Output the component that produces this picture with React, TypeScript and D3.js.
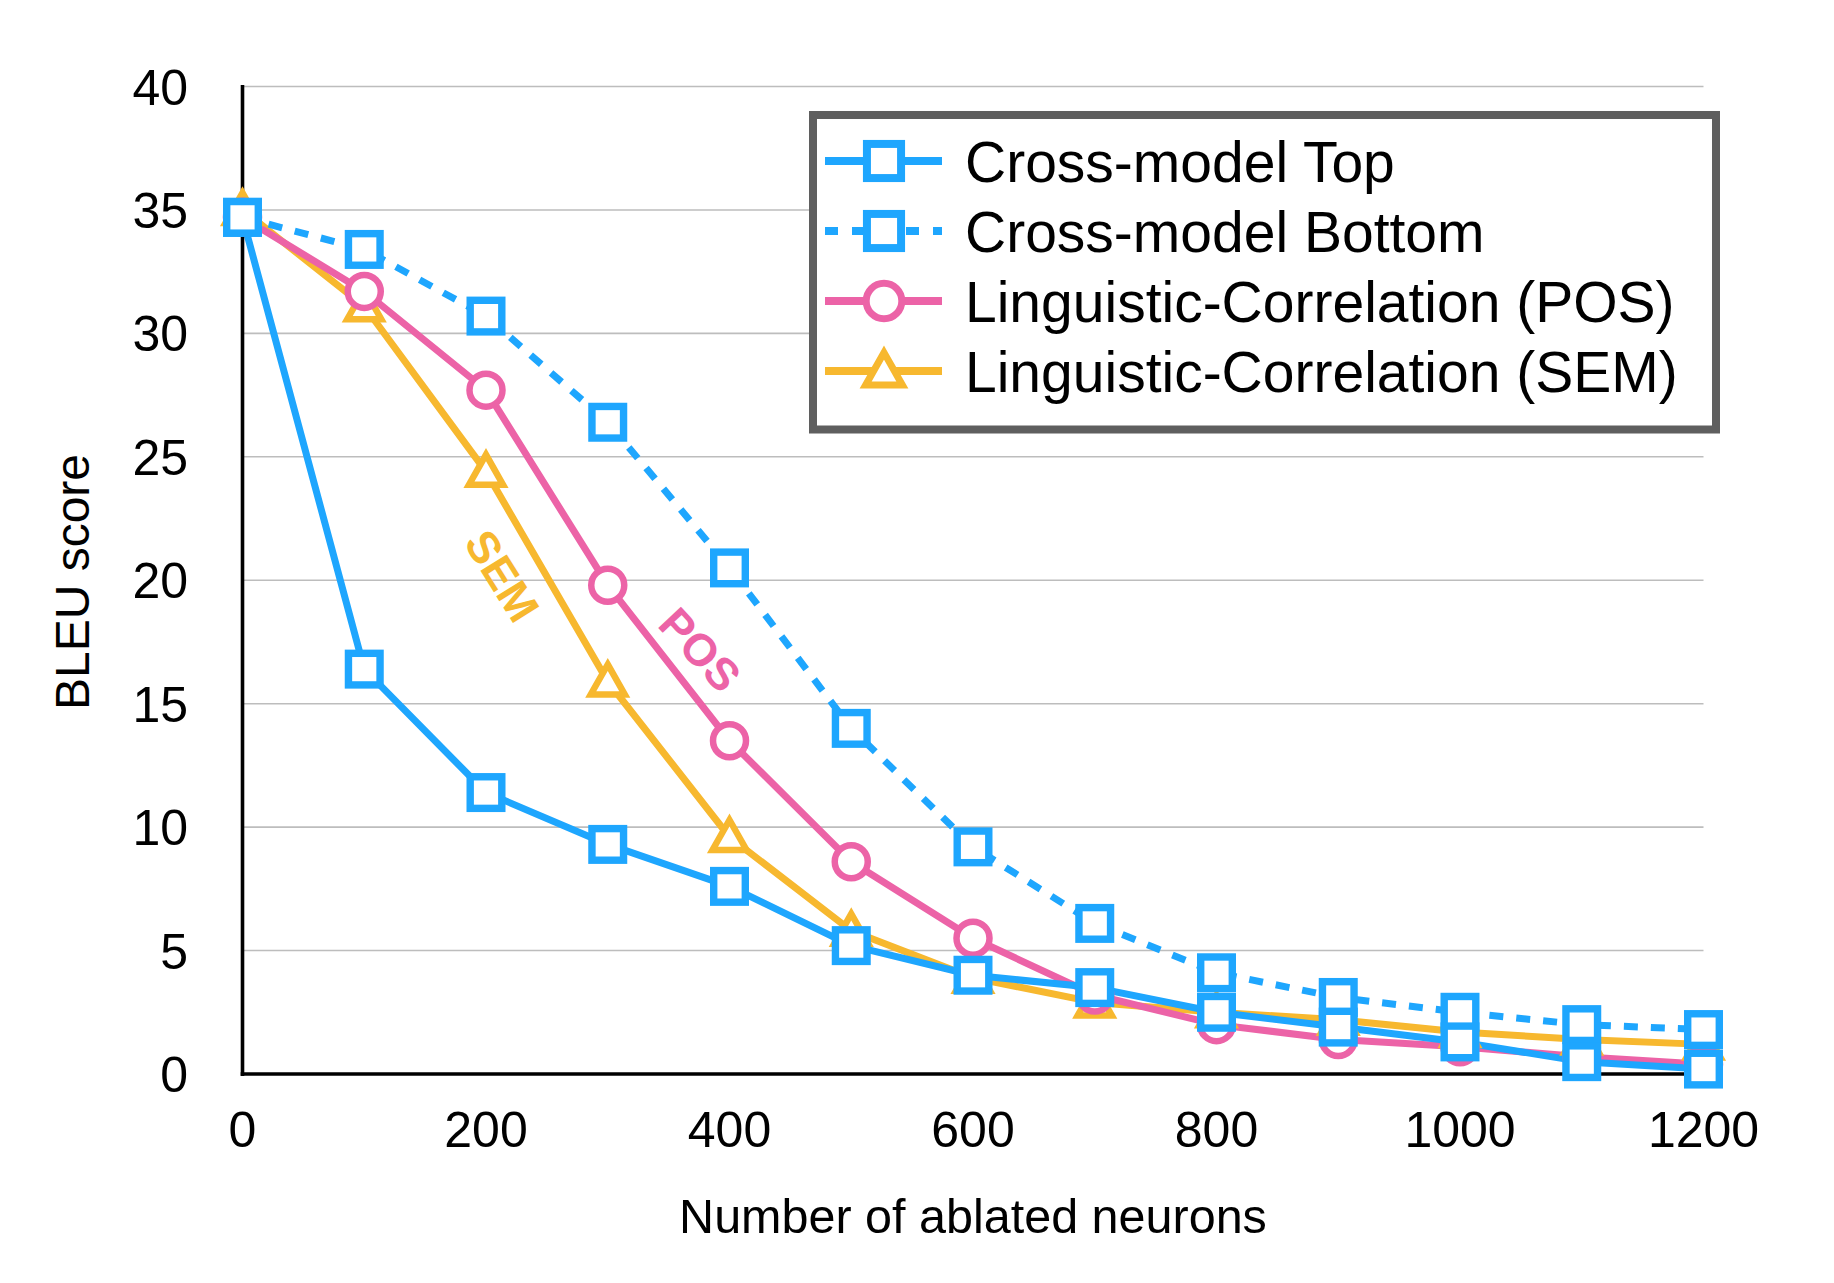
import React from "react";
import * as d3 from "d3";

const xValues = [0, 100, 200, 300, 400, 500, 600, 700, 800, 900, 1000, 1100, 1200];
const crossTop = [34.7, 16.4, 11.4, 9.3, 7.6, 5.2, 4.0, 3.5, 2.5, 1.9, 1.3, 0.5, 0.2];
const crossBottom = [34.7, 33.4, 30.7, 26.4, 20.5, 14.0, 9.2, 6.1, 4.1, 3.1, 2.5, 2.0, 1.8];
const lingPOS = [34.7, 31.7, 27.7, 19.8, 13.5, 8.6, 5.5, 3.2, 2.0, 1.4, 1.1, 0.7, 0.4];
const lingSEM = [35.0, 31.1, 24.4, 15.9, 9.6, 5.8, 3.9, 2.9, 2.5, 2.2, 1.7, 1.4, 1.2];
const yTicks = [0, 5, 10, 15, 20, 25, 30, 35, 40];
const xTicks = [0, 200, 400, 600, 800, 1000, 1200];
const legendLabels = [
  "Cross-model Top",
  "Cross-model Bottom",
  "Linguistic-Correlation (POS)",
  "Linguistic-Correlation (SEM)",
];

const BLUE = "#1ea6fe";
const PINK = "#ec63a7";
const YELLOW = "#f7b82f";
const FONT = "'Liberation Sans', Arial, Helvetica, sans-serif";

type Marker = "square" | "circle" | "triangle";

function markerEl(kind: Marker, cx: number, cy: number, color: string, scale: number, key?: string) {
  const sw = 7.4 * scale;
  if (kind === "square") {
    const h = 15.8 * scale;
    return <rect key={key} x={cx - h} y={cy - h} width={2 * h} height={2 * h} fill="#fff" stroke={color} strokeWidth={sw} />;
  }
  if (kind === "circle") {
    const r = 16.5 * scale;
    return <circle key={key} cx={cx} cy={cy} r={r} fill="#fff" stroke={color} strokeWidth={6.5 * scale} />;
  }
  const hw = 17 * scale;
  const top = 17 * scale;
  const bot = 13 * scale;
  const d = `M${cx},${cy - top}L${cx + hw},${cy + bot}L${cx - hw},${cy + bot}Z`;
  return <path key={key} d={d} fill="#fff" stroke={color} strokeWidth={6.5 * scale} strokeLinejoin="miter" />;
}

export default function App() {
  const width = 1834;
  const height = 1283;
  const x = d3.scaleLinear().domain([0, 1200]).range([242.5, 1703.5]);
  const y = d3.scaleLinear().domain([0, 40]).range([1074, 86.5]);

  const series = [
    { name: legendLabels[3], values: lingSEM, color: YELLOW, marker: "triangle" as Marker, dash: undefined as string | undefined },
    { name: legendLabels[2], values: lingPOS, color: PINK, marker: "circle" as Marker, dash: undefined },
    { name: legendLabels[1], values: crossBottom, color: BLUE, marker: "square" as Marker, dash: "14 13" },
    { name: legendLabels[0], values: crossTop, color: BLUE, marker: "square" as Marker, dash: undefined },
  ];

  const line = d3
    .line<number>()
    .x((_, i) => x(xValues[i]))
    .y((v) => y(v));

  const legendItems = [
    { label: legendLabels[0], color: BLUE, marker: "square" as Marker, dash: undefined as string | undefined },
    { label: legendLabels[1], color: BLUE, marker: "square" as Marker, dash: "13 14" },
    { label: legendLabels[2], color: PINK, marker: "circle" as Marker, dash: undefined },
    { label: legendLabels[3], color: YELLOW, marker: "triangle" as Marker, dash: undefined },
  ];

  return (
    <>
      <style>{`body{margin:0}`}</style>
      <svg width={width} height={height} style={{ display: "block", background: "#fff" }} fontFamily={FONT}>
        {/* gridlines */}
        {yTicks.map((t) => (
          <line key={"g" + t} x1={x(0)} x2={x(1200)} y1={y(t)} y2={y(t)} stroke="#bdbdbd" strokeWidth={1.6} />
        ))}
        {/* y tick labels */}
        {yTicks.map((t) => (
          <text key={"yl" + t} x={188} y={y(t) + 18} textAnchor="end" fontSize={50} fill="#000">
            {t}
          </text>
        ))}
        {/* x tick labels */}
        {xTicks.map((t) => (
          <text key={"xl" + t} x={x(t)} y={1147} textAnchor="middle" fontSize={50} fill="#000">
            {t}
          </text>
        ))}
        {/* axis titles */}
        <text x={973} y={1233} textAnchor="middle" fontSize={48.5} fill="#000">
          Number of ablated neurons
        </text>
        <text transform="translate(89,582) rotate(-90)" textAnchor="middle" fontSize={48} fill="#000">
          BLEU score
        </text>

        {/* series lines */}
        {series.map((s) => (
          <path
            key={"l" + s.name}
            d={line(s.values) || ""}
            fill="none"
            stroke={s.color}
            strokeWidth={7}
            strokeDasharray={s.dash}
            strokeLinejoin="round"
          />
        ))}
        {/* axes */}
        <line x1={242.5} x2={242.5} y1={85} y2={1076} stroke="#000" strokeWidth={3.6} />
        <line x1={240.7} x2={x(1200)} y1={1074} y2={1074} stroke="#000" strokeWidth={3.6} />
        {/* markers */}
        {series.map((s) => (
          <g key={"m" + s.name}>
            {s.values.map((v, i) => markerEl(s.marker, x(xValues[i]), y(v), s.color, 1, s.name + i))}
          </g>
        ))}

        {/* in-plot labels */}
        <text
          transform="translate(502,576) rotate(58)"
          textAnchor="middle"
          dominantBaseline="central"
          fontSize={45}
          fontWeight="bold"
          fill={YELLOW}
        >
          SEM
        </text>
        <text
          transform="translate(700,650) rotate(47)"
          textAnchor="middle"
          dominantBaseline="central"
          fontSize={45}
          fontWeight="bold"
          fill={PINK}
        >
          POS
        </text>

        {/* legend */}
        <rect x={813} y={115} width={903} height={314.5} fill="#fff" stroke="#5f5f5f" strokeWidth={8} />
        {legendItems.map((it, i) => {
          const cy = 161 + i * 70;
          return (
            <g key={"lg" + i}>
              <line
                x1={825}
                x2={942}
                y1={cy}
                y2={cy}
                stroke={it.color}
                strokeWidth={8}
                strokeDasharray={it.dash}
              />
              {markerEl(it.marker, 884, cy, it.color, 1.08)}
              <text x={965} y={cy + 21} fontSize={57} fill="#000">
                {it.label}
              </text>
            </g>
          );
        })}
      </svg>
    </>
  );
}
